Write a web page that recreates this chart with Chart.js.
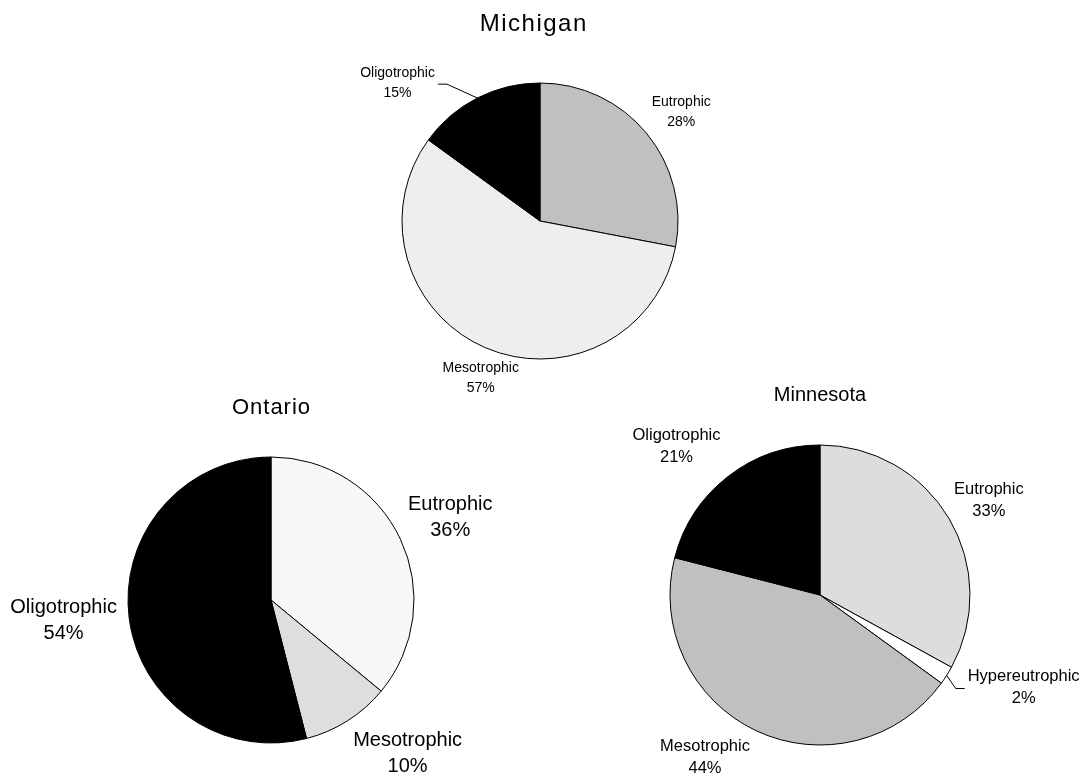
<!DOCTYPE html>
<html>
<head>
<meta charset="utf-8">
<script src="https://cdn.jsdelivr.net/npm/chart.js@4"></script>
<style>
  html, body { margin: 0; padding: 0; background: #fff; }
  .box { position: absolute; left: 0; top: 0; width: 1086px; height: 779px; }
</style>
</head>
<body>
<div class="box"><canvas id="michigan"></canvas></div>
<div class="box"><canvas id="ontario"></canvas></div>
<div class="box"><canvas id="minnesota"></canvas></div>
<script>
// lake trophic status shares (%)
const michiganLabels = ['Eutrophic', 'Mesotrophic', 'Oligotrophic'];
const michiganValues = [28, 57, 15];

const ontarioLabels = ['Eutrophic', 'Mesotrophic', 'Oligotrophic'];
const ontarioValues = [36, 10, 54];

const minnesotaLabels = ['Eutrophic', 'Hypereutrophic', 'Mesotrophic', 'Oligotrophic'];
const minnesotaValues = [33, 2, 44, 21];

const michiganColors = ['#c0c0c0', '#eeeeee', '#000000'];
const ontarioColors = ['#f7f7f7', '#dedede', '#000000'];
const minnesotaColors = ['#dddddd', '#ffffff', '#c0c0c0', '#000000'];

const W = 1086, H = 779;
const FONT = '"Liberation Sans", Arial, Helvetica, sans-serif';

/* draws the title plus the two-line slice labels (and leader lines) */
const pieText = {
    id: 'pieText',
    afterDatasetsDraw(chart, args, opts) {
        const ctx = chart.ctx;
        const meta = chart.getDatasetMeta(0);
        const values = chart.data.datasets[0].data;
        const total = values.reduce((a, b) => a + b, 0);
        let cx = 0, cy = 0, R = 0;

        ctx.save();
        ctx.fillStyle = '#000';
        ctx.strokeStyle = '#000';
        ctx.lineWidth = 1;
        ctx.textAlign = 'center';
        ctx.textBaseline = 'middle';
        ctx.font = opts.labelSize + 'px ' + FONT;

        meta.data.forEach((arc, i) => {
            const p = arc.getProps(['x', 'y', 'startAngle', 'endAngle', 'outerRadius'], true);
            cx = p.x; cy = p.y; R = p.outerRadius;
            const mid = (p.startAngle + p.endAngle) / 2;
            const nudge = opts.nudges[i] || [0, 0];
            const lx = p.x + Math.cos(mid) * R * opts.k + nudge[0];
            const ly = p.y + Math.sin(mid) * R * opts.k + nudge[1];
            const name = chart.data.labels[i];
            const pct = Math.round(values[i] / total * 100) + '%';
            const half = opts.lineHeight / 2;
            ctx.fillText(name, lx, ly - half);
            ctx.fillText(pct, lx, ly + half);

            const lead = opts.leaders && opts.leaders[i];
            if (lead) {
                const w = Math.max(ctx.measureText(name).width, ctx.measureText(pct).width);
                const ex = p.x + Math.cos(mid) * R;
                const ey = p.y + Math.sin(mid) * R;
                const side = lead === 'right' ? lx + w / 2 : lx - w / 2;
                const s = lead === 'right' ? 1 : -1;
                ctx.beginPath();
                ctx.moveTo(ex, ey);
                ctx.lineTo(side + s * 12, ly + 1);
                ctx.lineTo(side + s * 3, ly + 1);
                ctx.stroke();
            }
        });

        ctx.font = opts.titleSize + 'px ' + FONT;
        if ('letterSpacing' in ctx) ctx.letterSpacing = opts.titleSpacing + 'px';
        ctx.fillText(opts.title, cx + opts.titleSpacing / 2 + (opts.titleDx || 0), cy - R - opts.titleGap);
        ctx.restore();
    }
};

function makePie(id, labels, values, colors, geo, text) {
    const pad = {
        left: geo.cx - geo.r - 0.5,
        right: W - (geo.cx + geo.r + 0.5),
        top: geo.cy - geo.r - 0.5,
        bottom: H - (geo.cy + geo.r + 0.5)
    };
    return new Chart(document.getElementById(id), {
        type: 'pie',
        data: {
            labels,
            datasets: [{
                data: values,
                backgroundColor: colors,
                borderColor: '#000',
                borderWidth: 1
            }]
        },
        options: {
            responsive: true,
            maintainAspectRatio: false,
            animation: false,
            events: [],
            layout: { padding: pad },
            plugins: {
                legend: { display: false },
                tooltip: { enabled: false },
                pieText: text
            }
        },
        plugins: [pieText]
    });
}

makePie('michigan', michiganLabels, michiganValues, michiganColors,
    { cx: 540, cy: 221, r: 138 },
    {
        title: 'Michigan', titleSize: 24, titleSpacing: 1.5, titleGap: 59, titleDx: -7,
        labelSize: 14, lineHeight: 20, k: 1.3,
        nudges: [[3, 5], [12, -8], [-61, 22]],
        leaders: [null, null, 'right']
    });

makePie('ontario', ontarioLabels, ontarioValues, ontarioColors,
    { cx: 271, cy: 600, r: 143 },
    {
        title: 'Ontario', titleSize: 22, titleSpacing: 1, titleGap: 49,
        labelSize: 20, lineHeight: 26, k: 1.3,
        nudges: [[11, -3], [37, -3], [-23, -3]]
    });

makePie('minnesota', minnesotaLabels, minnesotaValues, minnesotaColors,
    { cx: 820, cy: 595, r: 150 },
    {
        title: 'Minnesota', titleSize: 20, titleSpacing: 0, titleGap: 50,
        labelSize: 16.5, lineHeight: 22, k: 1.3,
        nudges: [[1, 5], [39, -12], [-32, -14], [-24, 6]],
        leaders: [null, 'left', null, null]
    });
</script>
</body>
</html>
